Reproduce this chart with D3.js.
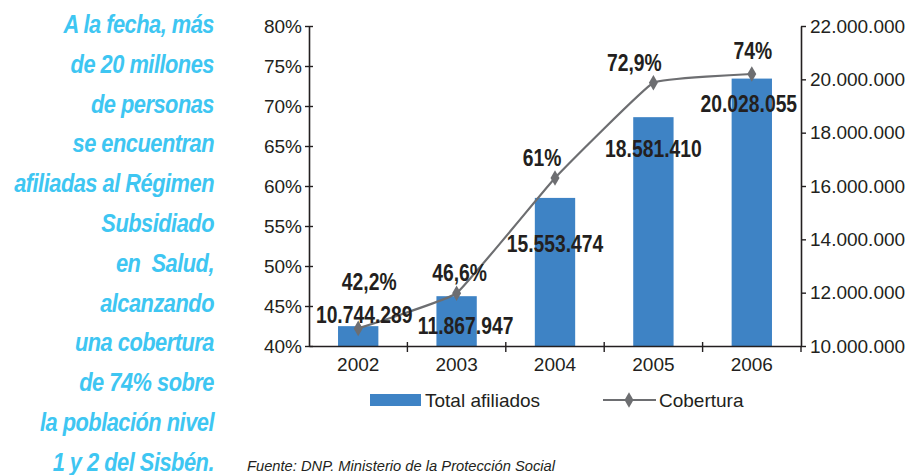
<!DOCTYPE html>
<meta charset="utf-8">
<style>
  body { margin: 0; background: #fff; }
  svg text { font-family: "Liberation Sans", Arial, sans-serif; fill: #231f20; }
  .side { fill: #3ec6f2; font-weight: bold; font-style: italic; font-size: 26px; letter-spacing: -0.6px; white-space: pre; }
  .lbl { font-weight: bold; font-size: 23px; }
</style>
<script src="https://d3js.org/d3.v7.min.js"></script>
<div id="chart"></div>
<script>
  // data
  var years = ["2002", "2003", "2004", "2005", "2006"];
  var afiliados = [10744289, 11867947, 15553474, 18581410, 20028055];
  var cobertura = [42.2, 46.6, 61, 72.9, 74];
  var pctLabels = ["42,2%", "46,6%", "61%", "72,9%", "74%"];
  var leftTicks = [40, 45, 50, 55, 60, 65, 70, 75, 80];
  var rightTicks = [10000000, 12000000, 14000000, 16000000, 18000000, 20000000, 22000000];
  var sideText = ["A la fecha, más", "de 20 millones", "de personas", "se encuentran",
    "afiliadas al Régimen", "Subsidiado", "en  Salud,", "alcanzando", "una cobertura",
    "de 74% sobre", "la población nivel", "1 y 2 del Sisbén."];

  // manual label nudges (dx, dy) like the original layout
  var valNudge = [[6, -3], [9, 38], [0, 54], [0, 40], [-3, 33]];
  var pctNudge = [[11, -38], [3, -12], [-13, -12], [-19, -12], [1, -15]];

  var W = 912, H = 475;
  var margin = { left: 309, right: 111, top: 26, bottom: 129 };
  var width = W - margin.left - margin.right,
    height = H - margin.top - margin.bottom;
  var sx = 0.84; // condensed look of the labels
  var sideScale = 0.84;

  var svg = d3.select("#chart").append("svg")
    .attr("width", W).attr("height", H);

  // left text block
  var side = svg.append("g").attr("transform", "scale(" + sideScale + ",1)");
  side.selectAll("text").data(sideText).enter().append("text")
    .attr("class", "side")
    .attr("x", 214 / sideScale)
    .attr("y", function (d, i) { return 33 + i * 39.8; })
    .attr("text-anchor", "end")
    .text(function (d) { return d; });

  var g = svg.append("g").attr("transform", "translate(" + margin.left + "," + margin.top + ")");

  var x = d3.scaleBand().domain(years).range([0, width]).paddingInner(0.59).paddingOuter(0.295);
  var xb = d3.scaleBand().domain(years).range([0, width]);
  var yL = d3.scaleLinear().domain([40, 80]).range([height, 0]);
  var yR = d3.scaleLinear().domain([10000000, 22000000]).range([height, 0]);

  // bars
  g.selectAll(".bar").data(afiliados).enter().append("rect")
    .attr("class", "bar")
    .attr("x", function (d, i) { return x(years[i]); })
    .attr("width", x.bandwidth())
    .attr("y", function (d) { return yR(d); })
    .attr("height", function (d) { return height - yR(d); })
    .attr("fill", "#3e83c5");

  // axes
  var fmtR = function (d) { return d3.format(",")(d).replace(/,/g, "."); };
  var axL = g.append("g")
    .call(d3.axisLeft(yL).tickValues(leftTicks).tickFormat(function (d) { return d + "%"; })
      .tickSize(4).tickSizeOuter(0).tickPadding(3));
  axL.selectAll(".tick line").attr("x2", -4).attr("x1", 4);
  var axR = g.append("g").attr("transform", "translate(" + width + ",0)")
    .call(d3.axisRight(yR).tickValues(rightTicks).tickFormat(fmtR).tickSize(5).tickSizeOuter(0).tickPadding(4));
  var axX = g.append("g").attr("transform", "translate(0," + height + ")")
    .call(d3.axisBottom(xb).tickSize(0).tickSizeOuter(0).tickPadding(12));
  // category boundary ticks
  axX.selectAll(".sep").data(years.slice(1)).enter().append("line")
    .attr("class", "sep")
    .attr("x1", function (d) { return xb(d); }).attr("x2", function (d) { return xb(d); })
    .attr("y1", -4).attr("y2", 6);
  axX.append("line").attr("x1", width).attr("x2", width).attr("y1", 0).attr("y2", 6);

  [axL, axR, axX].forEach(function (a) {
    a.selectAll("path.domain").attr("stroke", "#231f20").attr("stroke-width", 1.6);
    a.selectAll("line").attr("stroke", "#231f20").attr("stroke-width", 1.4);
    a.selectAll("text").attr("font-size", "19px").attr("fill", "#231f20")
      .attr("font-family", "'Liberation Sans', Arial, sans-serif");
  });

  // line
  var cx = function (i) { return xb(years[i]) + xb.bandwidth() / 2; };
  var line = d3.line()
    .x(function (d, i) { return cx(i); })
    .y(function (d) { return yL(d); })
    .curve(d3.curveCardinal.tension(0.72));
  g.append("path").datum(cobertura)
    .attr("d", line).attr("fill", "none")
    .attr("stroke", "#6d6e71").attr("stroke-width", 2.2);
  var diamond = d3.symbol().type(d3.symbolDiamond).size(70);
  g.selectAll(".mk").data(cobertura).enter().append("path")
    .attr("class", "mk")
    .attr("d", diamond)
    .attr("transform", function (d, i) { return "translate(" + cx(i) + "," + yL(d) + ")"; })
    .attr("fill", "#6d6e71");

  // value labels
  g.selectAll(".vl").data(afiliados).enter().append("text")
    .attr("class", "lbl")
    .attr("text-anchor", "middle")
    .attr("transform", function (d, i) {
      return "translate(" + (cx(i) + valNudge[i][0]) + "," + (yR(d) + valNudge[i][1]) + ") scale(" + sx + ",1)";
    })
    .text(function (d) { return fmtR(d); });

  g.selectAll(".pl").data(cobertura).enter().append("text")
    .attr("class", "lbl")
    .attr("text-anchor", "middle")
    .attr("transform", function (d, i) {
      return "translate(" + (cx(i) + pctNudge[i][0]) + "," + (yL(d) + pctNudge[i][1]) + ") scale(" + sx + ",1)";
    })
    .text(function (d, i) { return pctLabels[i]; });

  // legend
  var lg = svg.append("g");
  lg.append("rect").attr("x", 370).attr("y", 394).attr("width", 51).attr("height", 12).attr("fill", "#3e83c5");
  lg.append("text").attr("x", 425).attr("y", 407).attr("font-size", "19px").text("Total afiliados");
  lg.append("line").attr("x1", 603).attr("x2", 656).attr("y1", 400).attr("y2", 400)
    .attr("stroke", "#6d6e71").attr("stroke-width", 2.2);
  lg.append("path").attr("d", diamond).attr("transform", "translate(629,400)").attr("fill", "#6d6e71");
  lg.append("text").attr("x", 659).attr("y", 407).attr("font-size", "19px").text("Cobertura");

  // source
  svg.append("text").attr("x", 247).attr("y", 471)
    .attr("font-size", "14px").attr("font-style", "italic")
    .attr("textLength", 308).attr("lengthAdjust", "spacingAndGlyphs")
    .text("Fuente: DNP. Ministerio de la Protección Social");
</script>
